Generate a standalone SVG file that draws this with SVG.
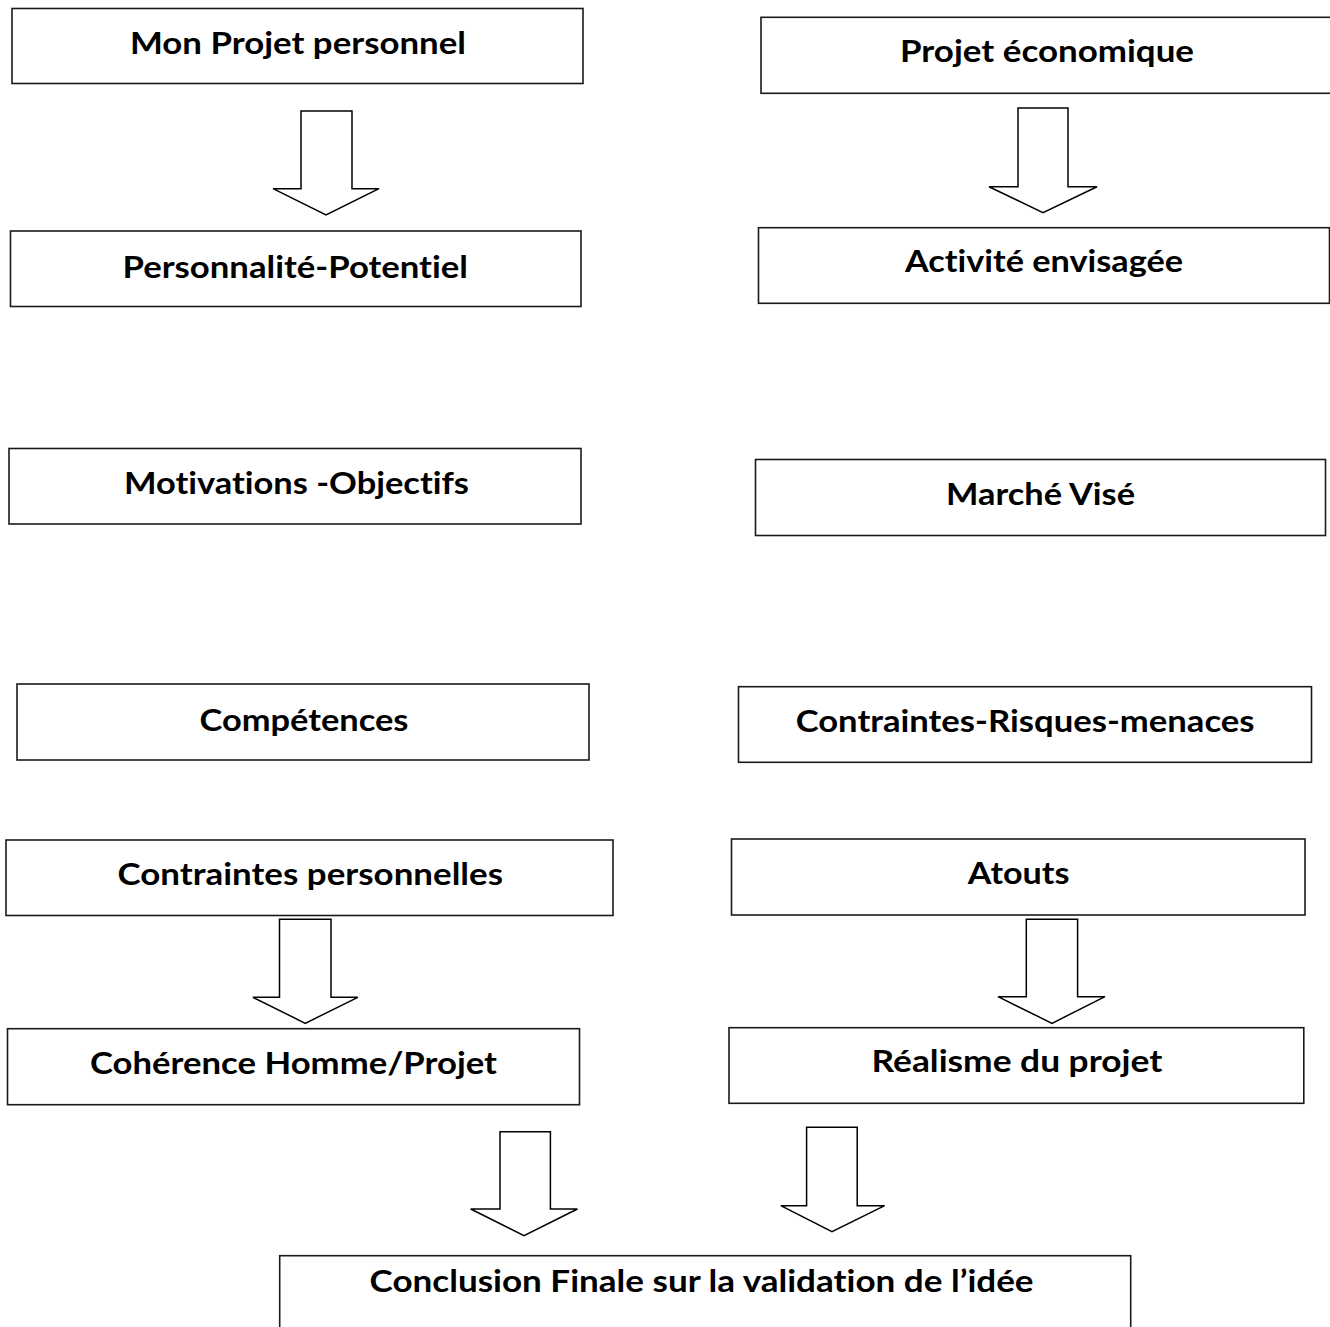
<svg xmlns="http://www.w3.org/2000/svg" width="1330" height="1327" viewBox="0 0 1330 1327">
<style>
.box{fill:#fff;stroke:#1a1a1a;stroke-width:1.6}
.arr{fill:#fff;stroke:#000;stroke-width:1.5;stroke-linejoin:miter}
.lbl{font-family:Lato,"Open Sans","Liberation Sans",sans-serif;font-weight:bold;font-size:30px;fill:#000;font-variant-ligatures:none;font-feature-settings:"liga" 0,"clig" 0}
</style>
<rect width="1330" height="1327" fill="#fff"/>
<g id="n1"><rect class="box" x="12" y="8.5" width="571" height="75"/><text class="lbl" x="130" y="53.5" textLength="336" lengthAdjust="spacingAndGlyphs">Mon Projet personnel</text></g>
<g id="n2"><rect class="box" x="10.5" y="231" width="570.5" height="75.5"/><text class="lbl" x="122.5" y="278" textLength="345.5" lengthAdjust="spacingAndGlyphs">Personnalité-Potentiel</text></g>
<g id="n3"><rect class="box" x="9" y="448.5" width="572" height="75.5"/><text class="lbl" x="124" y="494.3" textLength="345" lengthAdjust="spacingAndGlyphs">Motivations -Objectifs</text></g>
<g id="n4"><rect class="box" x="17" y="684" width="572" height="76"/><text class="lbl" x="199.5" y="730.7" textLength="209" lengthAdjust="spacingAndGlyphs">Compétences</text></g>
<g id="n5"><rect class="box" x="6" y="840" width="607" height="75.5"/><text class="lbl" x="117.5" y="885" textLength="385.5" lengthAdjust="spacingAndGlyphs">Contraintes personnelles</text></g>
<g id="n6"><rect class="box" x="7.5" y="1028.7" width="572" height="76"/><text class="lbl" x="90" y="1074.3" textLength="407" lengthAdjust="spacingAndGlyphs">Cohérence Homme/Projet</text></g>
<g id="n7"><rect class="box" x="761" y="17.3" width="580" height="76"/><text class="lbl" x="900" y="61.7" textLength="294" lengthAdjust="spacingAndGlyphs">Projet économique</text></g>
<g id="n8"><rect class="box" x="758.5" y="227.7" width="571" height="75.6"/><text class="lbl" x="905" y="271.7" textLength="278" lengthAdjust="spacingAndGlyphs">Activité envisagée</text></g>
<g id="n9"><rect class="box" x="755.5" y="459.5" width="570" height="76"/><text class="lbl" x="946" y="505" textLength="189" lengthAdjust="spacingAndGlyphs">Marché Visé</text></g>
<g id="n10"><rect class="box" x="738.5" y="686.7" width="573" height="75.6"/><text class="lbl" x="795.7" y="731.7" textLength="458.8" lengthAdjust="spacingAndGlyphs">Contraintes-Risques-menaces</text></g>
<g id="n11"><rect class="box" x="731.5" y="839" width="573.5" height="76"/><text class="lbl" x="967.8" y="884.3" textLength="101.7" lengthAdjust="spacingAndGlyphs">Atouts</text></g>
<g id="n12"><rect class="box" x="729" y="1027.7" width="574.8" height="75.6"/><text class="lbl" x="871.6" y="1072.3" textLength="290.8" lengthAdjust="spacingAndGlyphs">Réalisme du projet</text></g>
<g id="n13"><rect class="box" x="279.7" y="1255.7" width="851" height="90"/><text class="lbl" x="369.6" y="1291.7" textLength="664" lengthAdjust="spacingAndGlyphs">Conclusion Finale sur la validation de l’idée</text></g>
<g id="connectors">
<path class="arr" d="M301 111 H352 V188.7 H379 L326 215 L273 188.7 H301 Z"/>
<path class="arr" d="M1018 108 H1068 V186.7 H1097 L1043 212.7 L989 186.7 H1018 Z"/>
<path class="arr" d="M279.5 919.3 H331 V997.3 H357.8 L305.3 1023.3 L252.9 997.3 H279.5 Z"/>
<path class="arr" d="M1026.3 919.3 H1077.6 V996.7 H1105 L1052 1023.3 L998 996.7 H1026.3 Z"/>
<path class="arr" d="M500 1131.7 H550.4 V1209 H577.4 L524 1235.7 L470.7 1209 H500 Z"/>
<path class="arr" d="M806.6 1127.3 H857.2 V1205.7 H884.7 L832 1231.7 L780.8 1205.7 H806.6 Z"/>
</g>
</svg>
